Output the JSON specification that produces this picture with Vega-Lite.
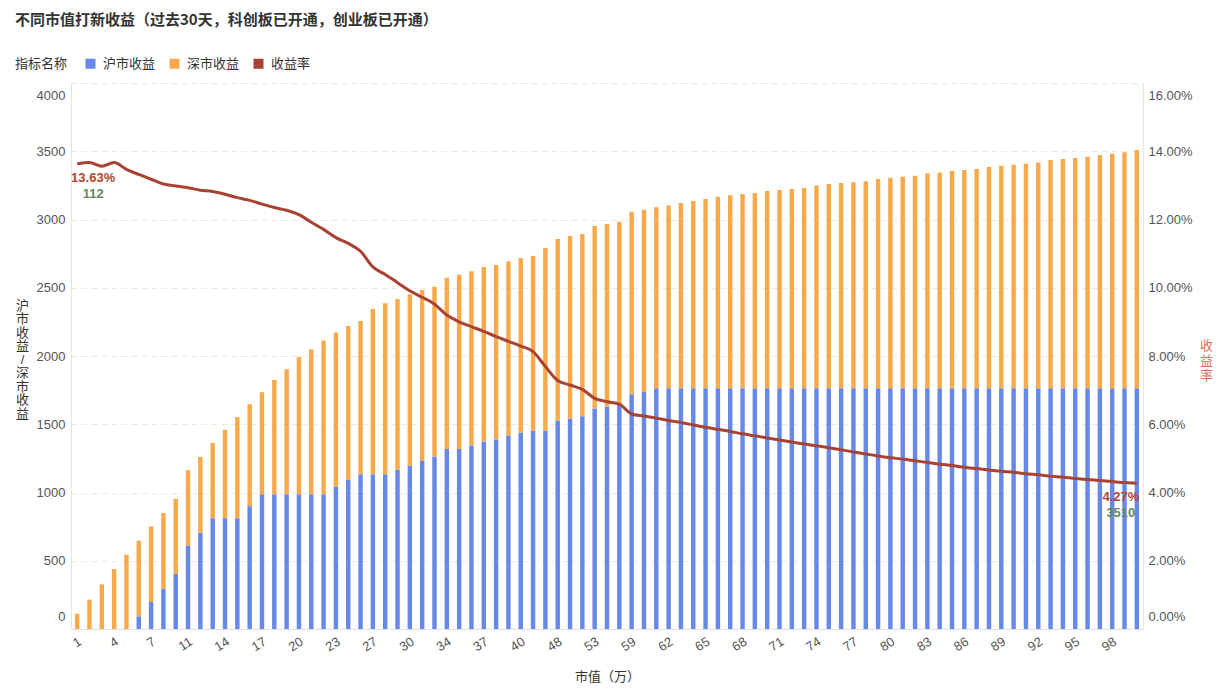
{
  "$schema": "https://vega.github.io/schema/vega-lite/v6.json",
  "width": 1072,
  "height": 546,
  "autosize": {"type": "none"},
  "padding": {"left": 71, "top": 83, "right": 77, "bottom": 65},
  "background": "white",
  "config": {"font": "Liberation Sans, Noto Sans CJK SC", "view": {"stroke": null}},
  "title": {"text": "不同市值打新收益（过去30天，科创板已开通，创业板已开通）", "anchor": "start", "frame": "group", "dx": -56, "offset": 29, "fontSize": 15, "fontWeight": "bold", "color": "#333333", "font": "Noto Sans CJK SC"},
  "data": {"values": [
    {"mv":1,"沪市收益":0,"深市收益":112,"rate":0.1363},
    {"mv":2,"沪市收益":0,"深市收益":215,"rate":0.1367},
    {"mv":3,"沪市收益":0,"深市收益":327,"rate":0.1356},
    {"mv":4,"沪市收益":0,"深市收益":439,"rate":0.1367},
    {"mv":5,"沪市收益":0,"深市收益":544,"rate":0.1347},
    {"mv":6,"沪市收益":93,"深市收益":554,"rate":0.1332},
    {"mv":7,"沪市收益":198,"深市收益":553,"rate":0.1318},
    {"mv":8,"沪市收益":295,"深市收益":554,"rate":0.1304},
    {"mv":9,"沪市收益":403,"深市收益":551,"rate":0.1298},
    {"mv":11,"沪市收益":612,"深市收益":552,"rate":0.1293},
    {"mv":12,"沪市收益":707,"深市收益":554,"rate":0.1286},
    {"mv":13,"沪市收益":812,"深市收益":552,"rate":0.1282},
    {"mv":14,"沪市收益":812,"深市收益":647,"rate":0.1274},
    {"mv":15,"沪市收益":812,"深市收益":740,"rate":0.1264},
    {"mv":16,"沪市收益":900,"深市收益":747,"rate":0.1256},
    {"mv":17,"沪市收益":988,"深市收益":747,"rate":0.1245},
    {"mv":18,"沪市收益":988,"深市收益":837,"rate":0.1235},
    {"mv":19,"沪市收益":988,"深市收益":915,"rate":0.1227},
    {"mv":20,"沪市收益":988,"深市收益":1005,"rate":0.1214},
    {"mv":21,"沪市收益":988,"深市收益":1062,"rate":0.1192},
    {"mv":22,"沪市收益":988,"深市收益":1125,"rate":0.1171},
    {"mv":23,"沪市收益":1044,"深市收益":1128,"rate":0.1147},
    {"mv":24,"沪市收益":1093,"深市收益":1127,"rate":0.1130},
    {"mv":25,"沪市收益":1134,"深市收益":1123,"rate":0.1107},
    {"mv":27,"沪市收益":1134,"深市收益":1211,"rate":0.1061},
    {"mv":28,"沪市收益":1134,"深市收益":1252,"rate":0.1039},
    {"mv":29,"沪市收益":1166,"深市收益":1252,"rate":0.1015},
    {"mv":30,"沪市收益":1198,"深市收益":1254,"rate":0.0991},
    {"mv":31,"沪市收益":1230,"深市收益":1254,"rate":0.0972},
    {"mv":32,"沪市收益":1264,"深市收益":1244,"rate":0.0952},
    {"mv":34,"沪市收益":1318,"深市收益":1256,"rate":0.0920},
    {"mv":35,"沪市收益":1318,"深市收益":1278,"rate":0.0900},
    {"mv":36,"沪市收益":1345,"深市收益":1276,"rate":0.0886},
    {"mv":37,"沪市收益":1374,"深市收益":1278,"rate":0.0872},
    {"mv":38,"沪市收益":1391,"深市收益":1276,"rate":0.0857},
    {"mv":39,"沪市收益":1415,"深市收益":1279,"rate":0.0843},
    {"mv":40,"沪市收益":1440,"深市收益":1278,"rate":0.0829},
    {"mv":41,"沪市收益":1454,"深市收益":1279,"rate":0.0813},
    {"mv":44,"沪市收益":1454,"深市收益":1337,"rate":0.0769},
    {"mv":48,"沪市收益":1528,"深市收益":1329,"rate":0.0728},
    {"mv":49,"沪市收益":1542,"深市收益":1337,"rate":0.0715},
    {"mv":50,"沪市收益":1559,"深市收益":1335,"rate":0.0702},
    {"mv":53,"沪市收益":1615,"深市收益":1337,"rate":0.0676},
    {"mv":54,"沪市收益":1630,"深市收益":1337,"rate":0.0666},
    {"mv":55,"沪市收益":1645,"深市收益":1339,"rate":0.0659},
    {"mv":59,"沪市收益":1720,"深市收益":1337,"rate":0.0630},
    {"mv":60,"沪市收益":1737,"深市收益":1335,"rate":0.0624},
    {"mv":61,"沪市收益":1764,"深市收益":1325,"rate":0.0618},
    {"mv":62,"沪市收益":1764,"深市收益":1340,"rate":0.0611},
    {"mv":63,"沪市收益":1764,"深市收益":1357,"rate":0.0605},
    {"mv":64,"沪市收益":1764,"深市收益":1371,"rate":0.0598},
    {"mv":65,"沪市收益":1764,"深市收益":1386,"rate":0.0591},
    {"mv":66,"沪市收益":1764,"深市收益":1403,"rate":0.0585},
    {"mv":67,"沪市收益":1764,"深市收益":1413,"rate":0.0579},
    {"mv":68,"沪市收益":1764,"深市收益":1423,"rate":0.0572},
    {"mv":69,"沪市收益":1764,"深市收益":1430,"rate":0.0566},
    {"mv":70,"沪市收益":1764,"深市收益":1445,"rate":0.0560},
    {"mv":71,"沪市收益":1764,"深市收益":1452,"rate":0.0554},
    {"mv":72,"沪市收益":1764,"深市收益":1459,"rate":0.0548},
    {"mv":73,"沪市收益":1764,"深市收益":1467,"rate":0.0542},
    {"mv":74,"沪市收益":1764,"深市收益":1486,"rate":0.0537},
    {"mv":75,"沪市收益":1764,"深市收益":1496,"rate":0.0531},
    {"mv":76,"沪市收益":1764,"深市收益":1503,"rate":0.0525},
    {"mv":77,"沪市收益":1764,"深市收益":1508,"rate":0.0519},
    {"mv":78,"沪市收益":1764,"深市收益":1516,"rate":0.0513},
    {"mv":79,"沪市收益":1764,"深市收益":1532,"rate":0.0507},
    {"mv":80,"沪市收益":1764,"深市收益":1542,"rate":0.0502},
    {"mv":81,"沪市收益":1764,"深市收益":1550,"rate":0.0498},
    {"mv":82,"沪市收益":1764,"深市收益":1557,"rate":0.0493},
    {"mv":83,"沪市收益":1764,"深市收益":1574,"rate":0.0488},
    {"mv":84,"沪市收益":1764,"深市收益":1581,"rate":0.0483},
    {"mv":85,"沪市收益":1764,"深市收益":1591,"rate":0.0479},
    {"mv":86,"沪市收益":1764,"深市收益":1598,"rate":0.0474},
    {"mv":87,"沪市收益":1764,"深市收益":1606,"rate":0.0470},
    {"mv":88,"沪市收益":1764,"深市收益":1620,"rate":0.0466},
    {"mv":89,"沪市收益":1764,"深市收益":1630,"rate":0.0462},
    {"mv":90,"沪市收益":1764,"深市收益":1637,"rate":0.0459},
    {"mv":91,"沪市收益":1764,"深市收益":1645,"rate":0.0455},
    {"mv":92,"沪市收益":1764,"深市收益":1654,"rate":0.0452},
    {"mv":93,"沪市收益":1764,"深市收益":1672,"rate":0.0448},
    {"mv":94,"沪市收益":1764,"深市收益":1679,"rate":0.0445},
    {"mv":95,"沪市收益":1764,"深市收益":1686,"rate":0.0441},
    {"mv":96,"沪市收益":1764,"深市收益":1696,"rate":0.0438},
    {"mv":97,"沪市收益":1764,"深市收益":1708,"rate":0.0435},
    {"mv":98,"沪市收益":1764,"深市收益":1718,"rate":0.0432},
    {"mv":99,"沪市收益":1764,"深市收益":1728,"rate":0.0429},
    {"mv":100,"沪市收益":1764,"深市收益":1746,"rate":0.0427}
  ]},
  "layer": [
    {
      "transform": [{"fold": ["沪市收益", "深市收益"], "as": ["指标", "value"]}],
      "mark": {"type": "bar", "width": {"band": 0.36}},
      "encoding": {
        "x": {
          "field": "mv", "type": "ordinal", "sort": "ascending",
          "scale": {"paddingInner": 0, "paddingOuter": 0},
          "axis": {
            "title": "市值（万）",
            "values": [1,4,7,11,14,17,20,23,27,30,34,37,40,48,53,59,62,65,68,71,74,77,80,83,86,89,92,95,98],
            "labelAngle": -32, "labelAlign": "right", "labelBaseline": "top",
            "labelFontSize": 13, "labelColor": "#555555", "labelPadding": 6,
            "ticks": false, "domainColor": "#E0E0E0", "grid": false,
            "titleFontSize": 13, "titleFontWeight": "normal", "titleColor": "#333333",
            "titleY": 47, "titleBaseline": "middle"
          }
        },
        "y": {
          "field": "value", "type": "quantitative", "stack": "zero",
          "scale": {"domain": [0, 4000]},
          "axis": {
            "values": [0,500,1000,1500,2000,2500,3000,3500,4000],
            "format": "d",
            "title": ["沪","市","收","益","/","深","市","收","益"],
            "titleAngle": 0, "titleX": -49, "titleY": 222, "titleAlign": "center", "titleBaseline": "middle",
            "titleFontSize": 13, "titleFontWeight": "normal", "titleColor": "#333333", "titleLineHeight": 13.5,
            "labelFontSize": 13, "labelColor": "#555555", "labelPadding": 6,
            "labelFlush": true, "labelFlushOffset": -6,
            "ticks": false, "domainColor": "#E6E6E6",
            "grid": true, "gridColor": "#EBEBEB", "gridDash": [6, 4]
          }
        },
        "color": {
          "field": "指标", "type": "nominal",
          "scale": {"domain": ["沪市收益", "深市收益", "收益率"], "range": ["#6688E8", "#F8AA4B", "#A84232"]},
          "legend": {
            "title": "指标名称", "orient": "none", "legendX": -56, "legendY": -26,
            "direction": "horizontal", "titleOrient": "left",
            "symbolType": "square", "symbolSize": 100, "symbolStrokeWidth": 0,
            "labelFontSize": 13, "labelColor": "#333333", "labelOffset": 6,
            "titleFontSize": 13, "titleFontWeight": "normal", "titleColor": "#333333", "titlePadding": 16,
            "columnPadding": 12
          }
        },
        "order": {"field": "指标", "sort": "ascending"}
      }
    },
    {
      "encoding": {
        "y": {
          "field": "rate", "type": "quantitative",
          "scale": {"domain": [0, 0.16]},
          "axis": {
            "orient": "right", "format": ".2%",
            "values": [0,0.02,0.04,0.06,0.08,0.10,0.12,0.14,0.16],
            "title": ["收","益","率"],
            "titleAngle": 0, "titleX": 63, "titleY": 262, "titleAlign": "center", "titleBaseline": "middle",
            "titleFontSize": 13, "titleFontWeight": "normal", "titleColor": "#E26B5C", "titleLineHeight": 15,
            "labelFontSize": 13, "labelColor": "#555555", "labelPadding": 5,
            "labelFlush": true, "labelFlushOffset": -6,
            "ticks": false, "domainColor": "#E6E6E6", "grid": false
          }
        }
      },
      "layer": [
        {
          "mark": {"type": "line", "interpolate": "monotone", "strokeWidth": 3},
          "encoding": {
            "x": {"field": "mv", "type": "ordinal"},
            "color": {"datum": "收益率"}
          }
        },
        {
          "transform": [{"filter": "datum.mv == 1"}],
          "mark": {"type": "text", "dx": 16, "dy": 14, "fontSize": 13, "fontWeight": "bold", "color": "#B5452F", "align": "center", "baseline": "middle"},
          "encoding": {
            "x": {"field": "mv", "type": "ordinal"},
            "text": {"field": "rate", "type": "quantitative", "format": ".2%"}
          }
        },
        {
          "transform": [{"filter": "datum.mv == 100"}],
          "mark": {"type": "text", "dx": -16, "dy": 14, "fontSize": 13, "fontWeight": "bold", "color": "#B5452F", "align": "center", "baseline": "middle"},
          "encoding": {
            "x": {"field": "mv", "type": "ordinal"},
            "text": {"field": "rate", "type": "quantitative", "format": ".2%"}
          }
        },
        {
          "transform": [
            {"filter": "datum.mv == 1"},
            {"fold": ["沪市收益", "深市收益"], "as": ["k", "v"]},
            {"aggregate": [{"op": "sum", "field": "v", "as": "total"}], "groupby": ["mv", "rate"]}
          ],
          "mark": {"type": "text", "dx": 16, "dy": 30, "fontSize": 13, "fontWeight": "bold", "color": "#5E8A62", "align": "center", "baseline": "middle"},
          "encoding": {
            "x": {"field": "mv", "type": "ordinal"},
            "text": {"field": "total", "type": "quantitative"}
          }
        },
        {
          "transform": [
            {"filter": "datum.mv == 100"},
            {"fold": ["沪市收益", "深市收益"], "as": ["k", "v"]},
            {"aggregate": [{"op": "sum", "field": "v", "as": "total"}], "groupby": ["mv", "rate"]}
          ],
          "mark": {"type": "text", "dx": -16, "dy": 30, "fontSize": 13, "fontWeight": "bold", "color": "#5E8A62", "align": "center", "baseline": "middle"},
          "encoding": {
            "x": {"field": "mv", "type": "ordinal"},
            "text": {"field": "total", "type": "quantitative"}
          }
        }
      ]
    }
  ],
  "resolve": {"scale": {"y": "independent"}}
}
